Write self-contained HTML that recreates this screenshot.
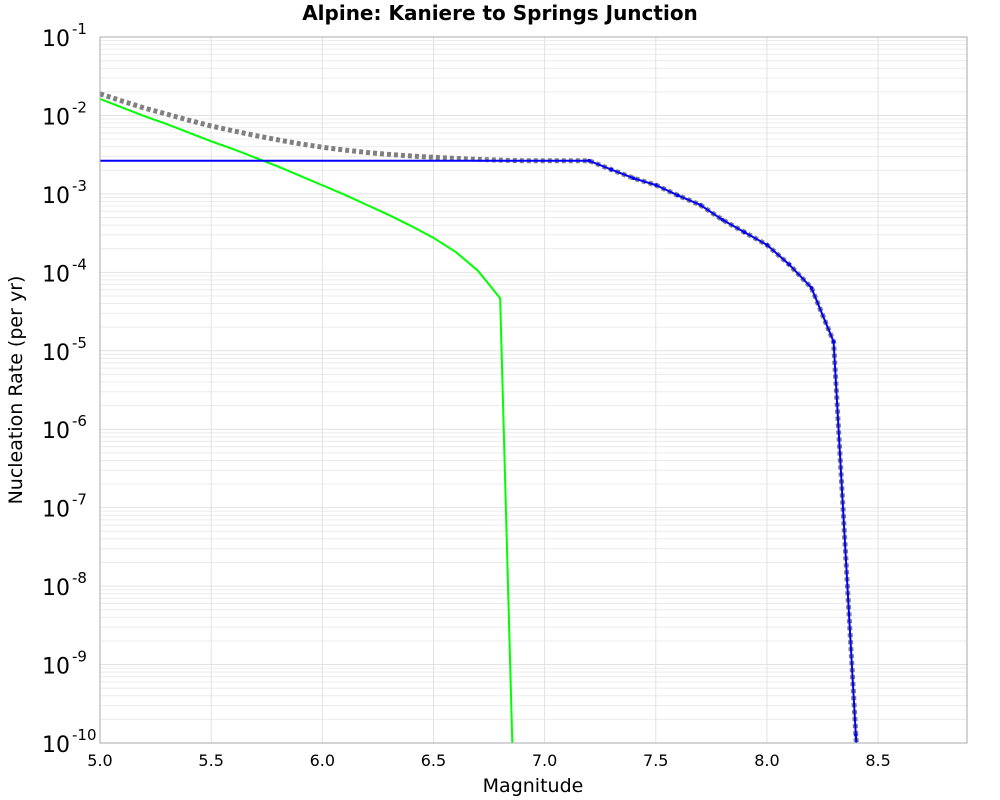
<!DOCTYPE html>
<html><head><meta charset="utf-8"><style>
html,body{margin:0;padding:0;background:#fff;overflow:hidden;width:1000px;height:800px;font-family:"Liberation Sans","DejaVu Sans",sans-serif}
svg{display:block}
</style></head><body>
<svg id="chart" width="1000" height="800" xmlns="http://www.w3.org/2000/svg" font-family="DejaVu Sans, Liberation Sans, sans-serif">
<text x="500" y="20" text-anchor="middle" font-size="20" font-weight="bold">Alpine: Kaniere to Springs Junction</text>
<text x="533" y="792" text-anchor="middle" font-size="19">Magnitude</text>
<text transform="translate(22,390) rotate(-90)" text-anchor="middle" font-size="19">Nucleation Rate (per yr)</text>
<g id="grid"></g>
<g id="ticks"></g>
<g id="series"></g>
<rect x="100" y="37" width="867" height="706" fill="none" stroke="#aaa" stroke-width="1"/>
</svg>
<script>
const mags = [5.0,5.1,5.2,5.3,5.4,5.5,5.6,5.7,5.8,5.9,6.0,6.1,6.2,6.3,6.4,6.5,6.6,6.7,6.8,6.9,7.0,7.1,7.2,7.3,7.4,7.5,7.6,7.7,7.8,7.9,8.0,8.1,8.2,8.3,8.4,8.5];
const greenLog = [-1.79,-1.90,-2.01,-2.11,-2.22,-2.33,-2.43,-2.54,-2.65,-2.77,-2.89,-3.01,-3.14,-3.27,-3.41,-3.56,-3.74,-3.98,-4.33,-14.7,null,null,null,null,null,null,null,null,null,null,null,null,null,null,null,null];
const blueLog = [-2.577,-2.577,-2.577,-2.577,-2.577,-2.577,-2.577,-2.577,-2.577,-2.577,-2.577,-2.577,-2.577,-2.577,-2.577,-2.577,-2.577,-2.577,-2.577,-2.577,-2.577,-2.577,-2.577,-2.69,-2.80,-2.887,-3.02,-3.14,-3.33,-3.49,-3.65,-3.90,-4.196,-4.885,-9.9,-14];
const xTicks = [5.0,5.5,6.0,6.5,7.0,7.5,8.0,8.5];
const yTickExps = [-1,-2,-3,-4,-5,-6,-7,-8,-9,-10];
const NS="http://www.w3.org/2000/svg";
const X0=100,X1=967,Y0=37,Y1=743,XMIN=5.0,XMAX=8.9,LMAX=-1,LMIN=-10;
function xs(m){return X0+(m-XMIN)/(XMAX-XMIN)*(X1-X0);}
function ys(l){return Y0+(LMAX-l)/(LMAX-LMIN)*(Y1-Y0);}
function mk(t,a,p){const e=document.createElementNS(NS,t);for(const k in a)e.setAttribute(k,a[k]);p.appendChild(e);return e;}
const grid=document.getElementById('grid'),ticks=document.getElementById('ticks'),ser=document.getElementById('series');
for(let d=-10;d<-1;d++){for(let k=2;k<=9;k++){const y=ys(d+Math.log10(k));
const l=mk('line',{x1:X0,x2:X1,y1:y,y2:y,stroke:'#ececec','stroke-width':1},grid);

}}
yTickExps.forEach(e=>{const y=ys(e);
const l=mk('line',{x1:X0,x2:X1,y1:y,y2:y,stroke:'#e2e2e2','stroke-width':1},grid);


const t=mk('text',{x:70,y:y+9,'text-anchor':'end','font-size':22},ticks);


t.textContent='10';
const s=mk('text',{x:72,y:y-3,'font-size':15},ticks);


s.textContent=String(e);});
xTicks.forEach(m=>{const x=xs(m);
const l=mk('line',{x1:x,x2:x,y1:Y0,y2:Y1,stroke:'#e2e2e2','stroke-width':1},grid);


const t=mk('text',{x:x,y:766,'text-anchor':'middle','font-size':16},ticks);


t.textContent=m.toFixed(1);});
const cp=mk('clipPath',{id:'cp'},document.getElementById('chart'));
mk('rect',{x:X0,y:Y0,width:X1-X0,height:Y1-Y0},cp);
function pts(arr){const p=[];arr.forEach((v,i)=>{if(v!==null)p.push([xs(mags[i]),ys(v),mags[i]]);});return p;}
const totalLog=mags.map((m,i)=>{let s=0;if(greenLog[i]!==null)s+=Math.pow(10,greenLog[i]);if(blueLog[i]!==null)s+=Math.pow(10,blueLog[i]);return Math.log10(s);});
function line(arr,stroke,w,dash,name){const p=pts(arr).map(q=>q[0]+','+q[1]).join(' ');
const a={points:p,fill:'none',stroke:stroke,'stroke-width':w,'clip-path':'url(#cp)'};if(dash)a['stroke-dasharray']=dash;
const e=mk('polyline',a,ser);

}
line(totalLog,'#808080',5,'4 3','total-rate-line');
line(greenLog,'#00ff00',2,null,'gr-rate-line');
line(blueLog,'#0000ff',2,null,'supra-rate-line');
pts(blueLog).forEach(q=>{if(q[1]<=Y1&&q[2]>=7.2){const c=mk('circle',{cx:q[0],cy:q[1],r:1.8,fill:'#0000ff'},ser);

}});
</script>
</body></html>
